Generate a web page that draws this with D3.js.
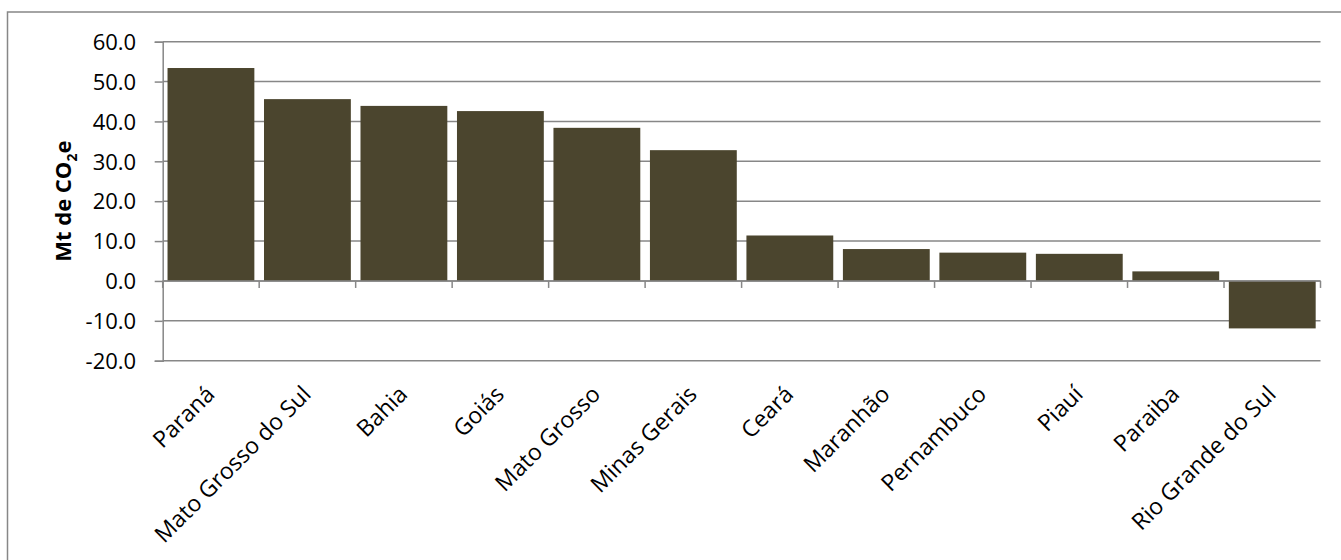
<!DOCTYPE html>
<html><head><meta charset="utf-8">
<script src="https://cdn.jsdelivr.net/npm/d3@7/dist/d3.min.js"></script>
<style>body{margin:0;background:#fff;} svg{display:block;}</style>
</head><body>
<svg id="c" width="1341" height="560"></svg>
<script>
const categories = ["Paraná","Mato Grosso do Sul","Bahia","Goiás","Mato Grosso","Minas Gerais","Ceará","Maranhão","Pernambuco","Piauí","Paraiba","Rio Grande do Sul"];
const values = [53.4, 45.6, 43.9, 42.6, 38.4, 32.8, 11.4, 8.0, 7.1, 6.8, 2.4, -11.9];
const yTicks = [-20, -10, 0, 10, 20, 30, 40, 50, 60];
const yTitle = "Mt de CO";
const yTitleSub = "2";
const yTitleEnd = "e";

const svg = d3.select("#c");
const L = 162.7, R = 1320.5, T = 41.7, B = 360.7;
const grid = "#878787", barColor = "#4b452e";

svg.append("rect").attr("x", 7.5).attr("y", 12).attr("width", 1400).attr("height", 600)
  .attr("fill", "none").attr("stroke", grid).attr("stroke-width", 1.5);

const x = d3.scaleBand().domain(categories).range([L, R]).paddingInner(0.1).paddingOuter(0.05);
const y = d3.scaleLinear().domain([-20, 60]).range([B, T]);

// gridlines
svg.append("g").selectAll("line").data(yTicks).join("line")
  .attr("x1", L).attr("x2", R).attr("y1", d => y(d)).attr("y2", d => y(d))
  .attr("stroke", grid).attr("stroke-width", 1.5);

// bars
svg.append("g").selectAll("rect").data(values).join("rect")
  .attr("x", (d, i) => x(categories[i]))
  .attr("width", x.bandwidth())
  .attr("y", d => y(Math.max(0, d)))
  .attr("height", d => Math.abs(y(d) - y(0)))
  .attr("fill", barColor);

// y axis
const fmt = d => d3.format(".1f")(d).replace("−", "-");
const yAxis = d3.axisLeft(y).tickValues(yTicks).tickSize(8).tickFormat(fmt);
const gy = svg.append("g").attr("transform", `translate(${L},0)`).call(yAxis);
gy.select(".domain").attr("stroke", grid).attr("stroke-width", 1.5);
gy.selectAll(".tick line").attr("stroke", grid).attr("stroke-width", 1.5);
gy.selectAll(".tick text").attr("font-family", "'Open Sans', sans-serif").attr("font-size", 22)
  .attr("fill", "#000").attr("x", -26.5).attr("dy", "0.35em");

// x axis at zero with ticks at band boundaries
const bounds = d3.range(categories.length + 1).map(i => L + i * (R - L) / categories.length);
const gx = svg.append("g");
gx.append("line").attr("x1", L).attr("x2", R).attr("y1", y(0)).attr("y2", y(0))
  .attr("stroke", grid).attr("stroke-width", 1.5);
gx.selectAll("line.t").data(bounds).join("line").attr("class", "t")
  .attr("x1", d => d).attr("x2", d => d).attr("y1", y(0)).attr("y2", y(0) + 7)
  .attr("stroke", grid).attr("stroke-width", 1.5);

// x labels
svg.append("g").selectAll("text").data(categories).join("text")
  .attr("transform", d => `translate(${x(d) + x.bandwidth() / 2 + 5},${B + 35}) rotate(-45)`)
  .attr("text-anchor", "end")
  .attr("font-family", "'Open Sans', sans-serif").attr("font-size", 23).attr("fill", "#000")
  .text(d => d);

// y title
const t = svg.append("text")
  .attr("transform", `translate(71,${(T + B) / 2}) rotate(-90)`)
  .attr("text-anchor", "middle")
  .attr("font-family", "'Open Sans', sans-serif").attr("font-weight", "bold").attr("font-size", 22).attr("fill", "#000");
t.append("tspan").text(yTitle);
t.append("tspan").attr("font-size", 14).attr("dy", 6).text(yTitleSub);
t.append("tspan").attr("dy", -6).text(yTitleEnd);
</script>
</body></html>
